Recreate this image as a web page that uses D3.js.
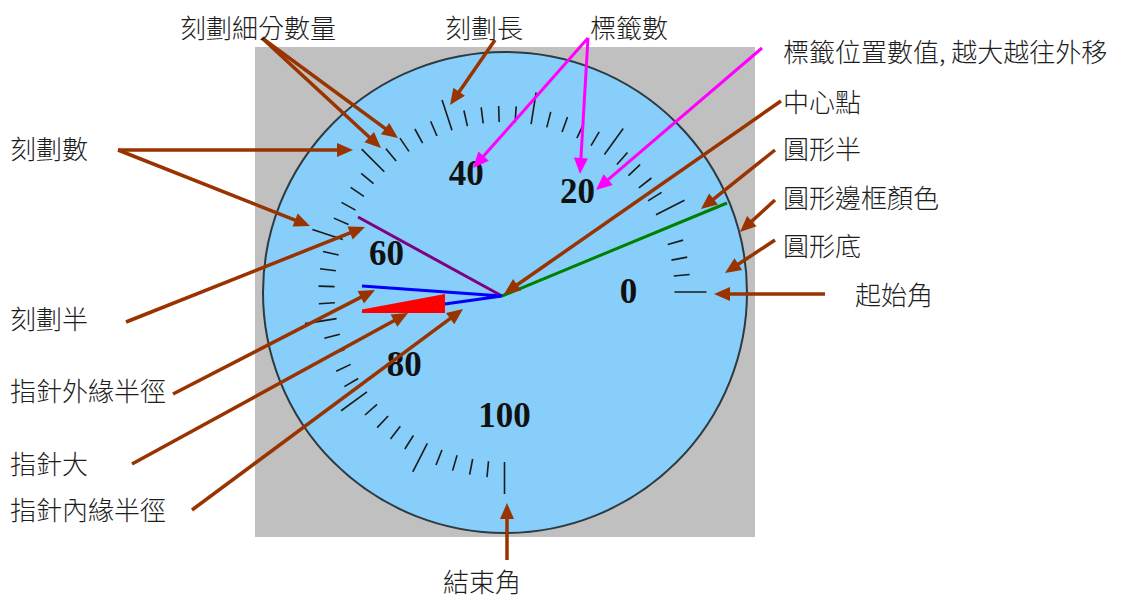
<!DOCTYPE html>
<html>
<head>
<meta charset="utf-8">
<script src="https://cdn.jsdelivr.net/npm/d3@7"></script>
<style>
  html, body { margin: 0; padding: 0; background: #fff; }
  svg { display: block; }
  .note { font-family: "Noto Sans CJK TC", "Noto Sans CJK SC", sans-serif; font-size: 26px; font-weight: 300; fill: #1e1e1e; }
  .num { font-family: "Liberation Serif", "DejaVu Serif", serif; font-weight: bold; font-size: 35px; fill: #111; }
</style>
</head>
<body>
<div id="chart"></div>
<script>
// gauge values
var gaugeDomain = [0, 100];
var gaugeAngles = [0, 270];            // start angle -> end angle (deg, counter clockwise)
var majorCount = 10;                   // 刻劃數
var subdivisions = 5;                  // 刻劃細分數量
var tickLabels = [0, 20, 40, 60, 80, 100];

// annotations: text, left x, middle y
var noteTexts = ["刻劃細分數量", "刻劃長", "標籤數", "標籤位置數值, 越大越往外移", "中心點", "圓形半",
  "圓形邊框顏色", "圓形底", "起始角", "刻劃數", "刻劃半", "指針外緣半徑", "指針大", "指針內緣半徑", "結束角"];
var noteX = [180, 445, 590, 783, 783, 783, 783, 783, 855, 10, 10, 10, 10, 10, 443];
var noteY = [26, 26, 26, 50, 100, 147, 196, 244, 293, 147, 317, 389, 462, 508, 580];

// arrows: [x1, y1, x2, y2, colour]
var arrows = [
  [262, 38, 398, 138, "brown"], [262, 38, 381, 148, "brown"],
  [495, 40, 450, 105, "brown"],
  [588, 38, 473, 168, "magenta"], [588, 38, 580, 174, "magenta"],
  [762, 48, 596, 190, "magenta"],
  [781, 101, 504, 294, "brown"],
  [775, 150, 701, 209, "brown"],
  [775, 200, 740, 232, "brown"],
  [775, 240, 725, 273, "brown"],
  [825, 294, 714, 294, "brown"],
  [118, 150, 353, 150, "brown"], [118, 150, 310, 226, "brown"],
  [126, 322, 365, 227, "brown"],
  [173, 394, 375, 290, "brown"],
  [132, 464, 408, 313, "brown"],
  [192, 510, 463, 309, "brown"],
  [507, 560, 507, 503, "brown"]
];

var width = 1130, height = 597;
var cx = 504.5, cy = 292, radius = 241;
var hub = [502, 296];

var svg = d3.select("#chart").append("svg")
  .attr("width", width)
  .attr("height", height);

svg.append("rect").attr("width", width).attr("height", height).attr("fill", "#fff");

// fondo gris
svg.append("rect")
  .attr("x", 255).attr("y", 47)
  .attr("width", 500).attr("height", 490)
  .attr("fill", "#c0c0c0");

// circle
svg.append("ellipse")
  .attr("cx", cx + 0.5).attr("cy", cy + 0.5)
  .attr("rx", radius + 1).attr("ry", radius - 0.5)
  .attr("fill", "#87cefa")
  .attr("stroke", "#2e3a40")
  .attr("stroke-width", 2);

var angle = d3.scaleLinear().domain(gaugeDomain).range(gaugeAngles);

function pt(v, r) {
  var a = angle(v) * Math.PI / 180;
  return [cx + r * Math.cos(a), cy - r * Math.sin(a)];
}

var majors = angle.ticks(majorCount);
var minors = angle.ticks(majorCount * subdivisions).filter(function (d) { return majors.indexOf(d) < 0 });

var g = svg.append("g");

g.selectAll(".minor")
  .data(minors)
  .enter().append("line")
  .attr("class", "minor")
  .attr("x1", function (d) { return pt(d, 170)[0] })
  .attr("y1", function (d) { return pt(d, 170)[1] })
  .attr("x2", function (d) { return pt(d, 186)[0] })
  .attr("y2", function (d) { return pt(d, 186)[1] })
  .attr("stroke", "#1a1a1a")
  .attr("stroke-width", 1.6);

g.selectAll(".major")
  .data(majors)
  .enter().append("line")
  .attr("class", "major")
  .attr("x1", function (d) { return pt(d, 170)[0] })
  .attr("y1", function (d) { return pt(d, 170)[1] })
  .attr("x2", function (d) { return pt(d, 202)[0] })
  .attr("y2", function (d) { return pt(d, 202)[1] })
  .attr("stroke", "#1a1a1a")
  .attr("stroke-width", 1.6);

g.selectAll(".num")
  .data(tickLabels)
  .enter().append("text")
  .attr("class", "num")
  .attr("x", function (d) { return pt(d, 124)[0] })
  .attr("y", function (d) { return pt(d, 124)[1] - 1 })
  .attr("text-anchor", "middle")
  .attr("dy", "0.34em")
  .text(function (d) { return d });

// lineas de ejemplo: radio del circulo y radio de las marcas
svg.append("line")
  .attr("x1", hub[0]).attr("y1", hub[1]).attr("x2", 727).attr("y2", 203)
  .attr("stroke", "#008000").attr("stroke-width", 3);
svg.append("line")
  .attr("x1", hub[0]).attr("y1", hub[1]).attr("x2", 358).attr("y2", 217)
  .attr("stroke", "#800080").attr("stroke-width", 3);

// aguja
svg.append("path")
  .attr("d", "M362,309.5 L445,294 L445,313 L362,313 Z")
  .attr("fill", "#ff0000");
svg.append("path")
  .attr("d", "M362,286 L" + hub[0] + "," + hub[1] + " L445,304")
  .attr("fill", "none")
  .attr("stroke", "#0000ff")
  .attr("stroke-width", 3);

// flechas
var colors = { brown: "#993300", magenta: "#ff00ff" };
var headLen = 16, headHalf = 7;

arrows.forEach(function (a) {
  var x1 = a[0], y1 = a[1], x2 = a[2], y2 = a[3];
  var dx = x2 - x1, dy = y2 - y1, len = Math.sqrt(dx * dx + dy * dy);
  var ux = dx / len, uy = dy / len;
  var bx = x2 - ux * headLen, by = y2 - uy * headLen;
  var c = colors[a[4]];
  svg.append("line")
    .attr("x1", x1).attr("y1", y1).attr("x2", bx + ux * 2).attr("y2", by + uy * 2)
    .attr("stroke", c).attr("stroke-width", a[4] == "magenta" ? 3 : 3.5);
  svg.append("path")
    .attr("d", "M" + x2 + "," + y2 +
      " L" + (bx - uy * headHalf) + "," + (by + ux * headHalf) +
      " L" + (bx + uy * headHalf) + "," + (by - ux * headHalf) + " Z")
    .attr("fill", c);
});

svg.selectAll(".note")
  .data(noteTexts)
  .enter().append("text")
  .attr("class", "note")
  .attr("x", function (d, i) { return noteX[i] })
  .attr("y", function (d, i) { return noteY[i] })
  .attr("dominant-baseline", "central")
  .text(function (d) { return d });
</script>
</body>
</html>
